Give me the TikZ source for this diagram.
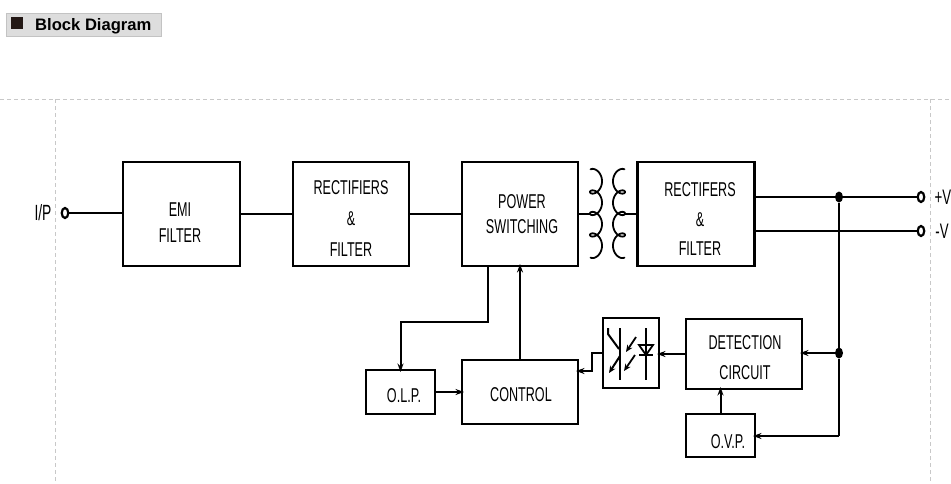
\documentclass[tikz,border=0pt]{standalone}
\usepackage{fontspec}
\setmainfont{Liberation Sans}
\newfontfamily\narrow[FakeStretch=0.63]{Liberation Sans}
\usetikzlibrary{arrows.meta,shapes.geometric}
\definecolor{hdrfill}{HTML}{DDDDDD}
\definecolor{hdrline}{HTML}{C3C3C3}
\definecolor{sqcol}{HTML}{231815}
\definecolor{guidecol}{HTML}{C8C8C8}
\begin{document}
\begin{tikzpicture}[x=1pt,y=-1pt,
  blk/.style n args={2}{draw, line width=2.3pt, minimum width=#1, minimum height=#2, inner sep=0pt, outer sep=0pt},
  txt/.style={font=\narrow\fontsize{20}{#1}\selectfont, align=center, inner sep=0pt},
  txt/.default=24,
  wire/.style={line width=2pt},
  arr/.style={-{Stealth[length=8.5pt,width=6pt]}, shorten >=-2pt},
  term/.style={ellipse, draw, line width=2.2pt, minimum width=6.5pt, minimum height=10pt, inner sep=0pt, outer sep=0pt},
  dot/.style={ellipse, fill, minimum width=8pt, minimum height=11pt, inner sep=0pt, outer sep=0pt},
  guide/.style={draw=guidecol, line width=1pt, dash pattern=on 4pt off 3pt},
  coil/.style={line width=1.8pt}
]
\useasboundingbox (0,0) rectangle (951,483);

% header
\node[draw=hdrline, fill=hdrfill, line width=1.2pt, minimum width=155, minimum height=23, anchor=north west, inner sep=0pt] (hdr) at (5.5,12.5) {};
\node[fill=sqcol, minimum width=12, minimum height=12.5, inner sep=0pt] (sq) at (16.7,23) {};
\node[anchor=base west, inner sep=0pt, font=\bfseries\fontsize{16.6}{20}\selectfont] (title) at (35,30) {Block Diagram};

% guide lines
\draw[guide] (0,99) -- (951,99);
\draw[guide] (55,99) -- (55,483);
\draw[guide] (930,99) -- (930,483);

% blocks
\node[blk={117}{104}] (emi) at (181.5,214) {};
\node[txt=26] (emit) at (180,223) {EMI\\FILTER};
\node[blk={116}{104}] (rect1) at (351,214) {};
\node[txt=31] (rect1t) at (351,219) {RECTIFIERS\\\&\\FILTER};
\node[blk={116}{104}] (ps) at (520,214) {};
\node[txt=25] (pst) at (522,214.5) {POWER\\SWITCHING};
\node[blk={117}{104}] (rect2) at (696,214) {};
\node[txt=29.5] (rect2t) at (700,219.5) {RECTIFERS\\\&\\FILTER};
\node[blk={116}{70}] (det) at (744,354) {};
\node[txt=30] (dett) at (745,358) {DETECTION\\CIRCUIT};
\node[blk={69}{43}] (ovp) at (720.5,435.5) {};
\node[txt] (ovpt) at (728,442) {O.V.P.};
\node[blk={69}{44}] (olp) at (400.5,392) {};
\node[txt] (olpt) at (404,396) {O.L.P.};
\node[blk={116}{64}] (ctrl) at (520,392) {};
\node[txt] (ctrlt) at (521,395) {CONTROL};
\node[blk={56}{70}] (opto) at (631,353) {};

% input
\node[term] (ip) at (65,213) {};
\node[txt, font=\narrow\fontsize{22}{24}\selectfont] (ipt) at (43,213) {I/P};
\draw[wire] (ip.east) -- (ip.east -| emi.west);
\draw[wire] (emi.east) -- (rect1.west);
\draw[wire] (rect1.east) -- (ps.west);

% transformer
\coordinate (cL) at (590,213.5);
\coordinate (cR) at (625,213.5);
\draw[coil] plot[domain=0.3:{8*pi-0.3}, samples=240, smooth, variable=\t] ({596-6*cos(\t r)}, {170.5+3.42*\t-6*sin(\t r)});
\draw[coil] plot[domain=0.3:{8*pi-0.3}, samples=240, smooth, variable=\t] ({619+6*cos(\t r)}, {170.5+3.42*\t-6*sin(\t r)});
\draw[wire] (ps.east |- cL) -- (cL);
\draw[wire] (cR) -- (cR -| rect2.west);

% outputs
\node[dot] (j1) at (839,197) {};
\node[term] (vp) at (921,197) {};
\node[term] (vm) at (921,231) {};
\node[txt, font=\narrow\fontsize{21}{24}\selectfont] (vpt) at (943,197) {+V};
\node[txt, font=\narrow\fontsize{21}{24}\selectfont] (vmt) at (942,231) {-V};
\draw[wire] (rect2.east |- j1) -- (j1) -- (vp);
\draw[wire] (rect2.east |- vm) -- (vm);

% feedback
\node[dot] (j2) at (839,353) {};
\coordinate (j3) at (839,436);
\draw[wire] (j1) -- (j2) -- (j3);
\draw[wire,arr] (j2) -- (j2 -| det.east);
\draw[wire,arr] (j3) -- (j3 -| ovp.east);
\draw[wire,arr] (ovp.north) -- (ovp.north |- det.south);
\draw[wire,arr] (det.west) -- (det.west -| opto.east);
\coordinate (k1) at (592,371);
\draw[wire,arr] (opto.west) -| (k1) -- (k1 -| ctrl.east);
\draw[wire,arr] (olp.east) -- (olp.east -| ctrl.west);
\coordinate (k2) at (488,322);
\draw[wire,arr] (ps.south -| k2) -- (k2) -| (olp.north);
\draw[wire,arr] (ctrl.north) -- (ps.south);

% optocoupler internals
\draw[line width=2pt] (620,328) -- (620,380);
\draw[line width=2pt] (608,328) -- (608,334) -- (619,349);
\draw[line width=2pt, -{Stealth[length=7pt,width=6pt]}] (620,356) -- (609,373);
\draw[line width=1.8pt, -{Stealth[length=7pt,width=6pt]}] (636,337) -- (626,352);
\draw[line width=1.8pt, -{Stealth[length=7pt,width=6pt]}] (635,355) -- (624,371);
\draw[line width=2pt] (646,328) -- (646,380);
\draw[line width=1.8pt] (639,345) -- (653,345) -- (646,355) -- cycle;
\draw[line width=1.8pt] (639,355) -- (653,355);
\end{tikzpicture}
\end{document}
